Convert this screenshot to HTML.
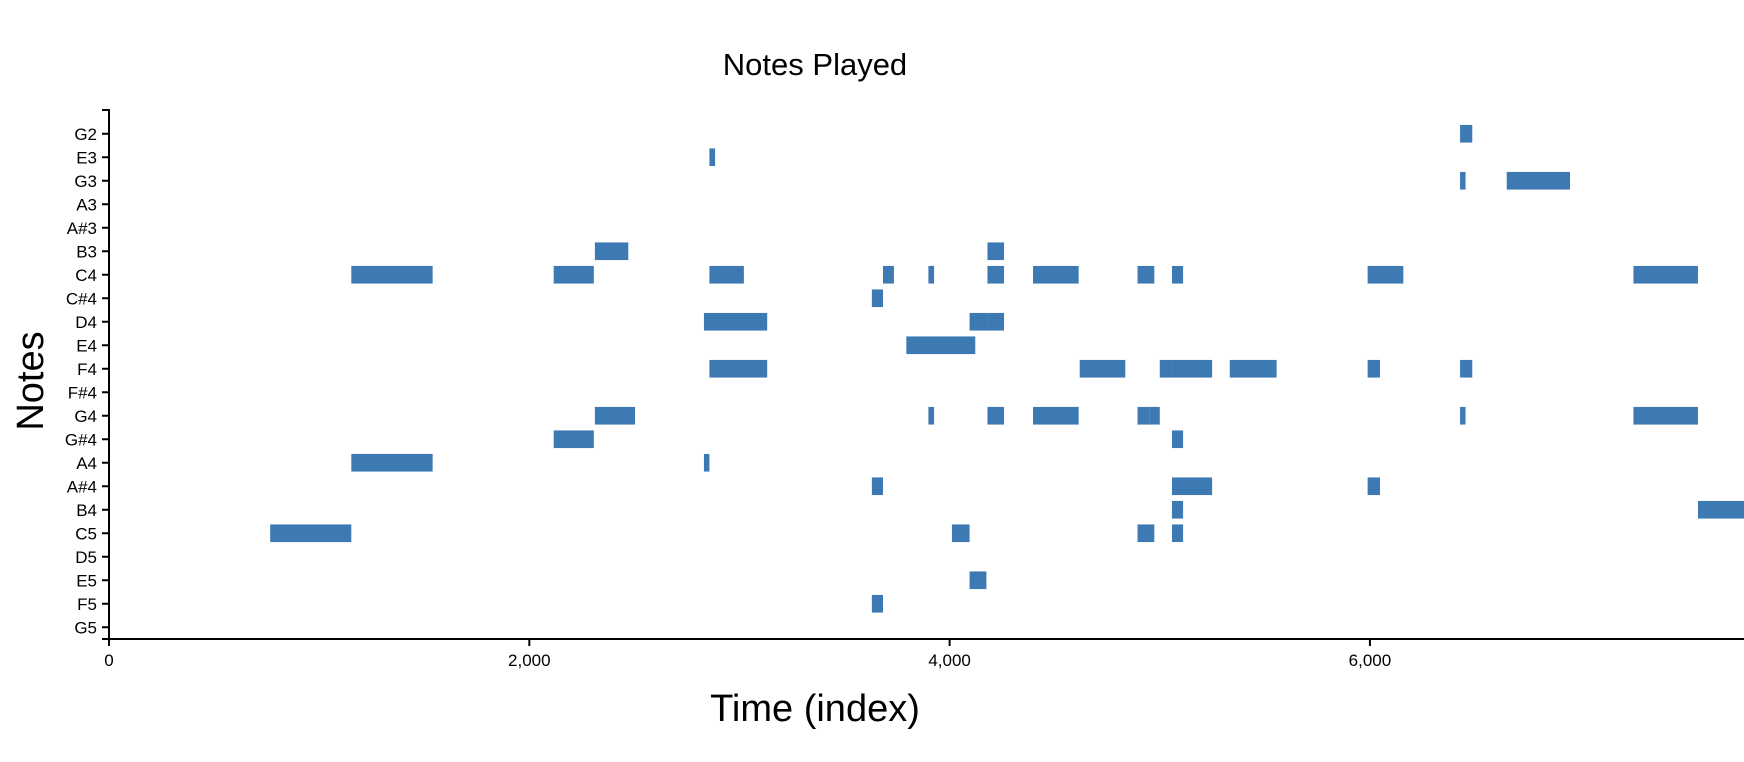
<!DOCTYPE html>
<html><head><meta charset="utf-8">
<style>
html,body{margin:0;padding:0;background:#fff;}
svg{display:block;font-family:"Liberation Sans",Arial,sans-serif;}
</style></head>
<body>
<svg id="chart" width="1744" height="762">
<text x="815" y="75" text-anchor="middle" font-size="31">Notes Played</text>
<text transform="translate(43,381) rotate(-90)" text-anchor="middle" font-size="38">Notes</text>
<text x="815" y="721" text-anchor="middle" font-size="38">Time (index)</text>
<defs><clipPath id="clip"><rect x="109" y="110" width="1635" height="540"/></clipPath></defs>
<g id="bars" clip-path="url(#clip)"></g>
<g id="axes"></g>
</svg>
<script>
const notes = ["G2","E3","G3","A3","A#3","B3","C4","C#4","D4","E4","F4","F#4","G4","G#4","A4","A#4","B4","C5","D5","E5","F5","G5"];
const xTicks = [0,2000,4000,6000];
const xTickLabels = ["0","2,000","4,000","6,000"];
const barNotes = ["G2","E3","G3","G3","B3","B3",
"C4","C4","C4","C4","C4","C4","C4","C4","C4","C4","C4",
"C#4","D4","D4","D4","E4",
"F4","F4","F4","F4","F4","F4","F4",
"G4","G4","G4","G4","G4","G4","G4","G4",
"G#4","G#4","A4","A4","A#4","A#4","A#4","B4","B4",
"C5","C5","C5","C5","E5","F5"];
const barStarts = [6429,2857,6429,6651,2312,4180,
1153,2116,2857,3683,3899,4180,4397,4894,5058,5989,7254,
3630,2831,4095,4180,3794,
2857,4619,5000,5058,5333,5989,6429,
2312,3899,4180,4397,4894,4952,6429,7254,
2116,5058,1153,2831,3630,5058,5989,5058,7561,
767,4011,4894,5058,4095,3630];
const barEnds = [6487,2884,6455,6952,2471,4259,
1540,2307,3021,3735,3926,4259,4614,4974,5111,6159,7561,
3683,3132,4180,4259,4122,
3132,4836,5058,5249,5556,6048,6487,
2503,3926,4259,4614,4952,5000,6455,7561,
2307,5111,1540,2857,3683,5249,6048,5111,8000,
1153,4095,4974,5111,4175,3683];

const X0=109, X1=1744, Y0=122, Y1=639, DMAX=7780;
const x = v => X0 + (v/DMAX)*(X1-X0);
const band = (Y1-Y0)/notes.length;
const yc = n => Y0 + (notes.indexOf(n)+0.5)*band;
const NS="http://www.w3.org/2000/svg";
const barsG=document.getElementById('bars');
const axesG=document.getElementById('axes');
function mk(tag, attrs){const e=document.createElementNS(NS,tag);for(const k in attrs)e.setAttribute(k,attrs[k]);return e;}
const bh = band*0.75;
barNotes.forEach((n,i)=>{
  const r=mk('rect',{x:x(barStarts[i]),y:yc(n)-bh/2,width:Math.max(1,x(barEnds[i])-x(barStarts[i])),height:bh,fill:'#3d79b3'});
  
  
  barsG.appendChild(r);
});
const ya=mk('path',{d:`M${X0-7},${Y0-12}H${X0}V${Y1}H${X0-7}`,stroke:'#000','stroke-width':2,fill:'none'});


axesG.appendChild(ya);
notes.forEach(n=>{
  const t=mk('line',{x1:X0-7,x2:X0,y1:yc(n),y2:yc(n),stroke:'#000','stroke-width':2});
  
  
  axesG.appendChild(t);
  const l=mk('text',{x:X0-12,y:yc(n)+6,'text-anchor':'end','font-size':17});
  l.textContent=n;
  
  
  axesG.appendChild(l);
});
const xa=mk('path',{d:`M${X0},${Y1+7}V${Y1}H${X1}`,stroke:'#000','stroke-width':2,fill:'none'});


axesG.appendChild(xa);
xTicks.forEach((v,i)=>{
  const t=mk('line',{x1:x(v),x2:x(v),y1:Y1,y2:Y1+7,stroke:'#000','stroke-width':2});
  
  
  axesG.appendChild(t);
  const l=mk('text',{x:x(v),y:Y1+27,'text-anchor':'middle','font-size':17});
  l.textContent=xTickLabels[i];
  
  
  axesG.appendChild(l);
});
</script>
</body></html>
